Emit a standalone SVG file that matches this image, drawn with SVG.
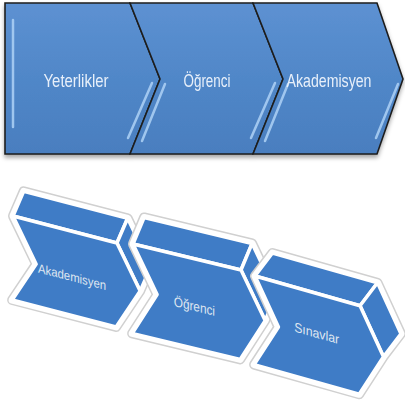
<svg xmlns="http://www.w3.org/2000/svg" width="405" height="405" viewBox="0 0 405 405">
<defs>
  <linearGradient id="gTop" x1="0" y1="0" x2="0" y2="1">
    <stop offset="0" stop-color="#5d91d2"/>
    <stop offset="0.5" stop-color="#5087c8"/>
    <stop offset="1" stop-color="#4a7ebf"/>
  </linearGradient>
  <filter id="shadow" x="-5%" y="-5%" width="110%" height="115%">
    <feDropShadow dx="0" dy="3" stdDeviation="2" flood-color="#000" flood-opacity="0.35"/>
  </filter>
  <style>
    .chev{fill:url(#gTop);stroke:#1e1e1e;stroke-width:1.6;stroke-linejoin:miter}
    .hl{stroke:#a9cdf3;stroke-width:2.5;fill:none;stroke-linecap:round;opacity:0.9}
    .t1{font-family:"Liberation Sans",Arial,sans-serif;font-size:19px;fill:#e8f0fa;text-anchor:middle}
    .halo{fill:#ffffff;stroke:#d0d0d0;stroke-width:10;stroke-linejoin:round;vector-effect:non-scaling-stroke}
    .halo2{fill:#ffffff;stroke:#ffffff;stroke-width:7;stroke-linejoin:round;vector-effect:non-scaling-stroke}
    .face{fill:#3f7cc6;stroke:#ffffff;stroke-width:3.5;stroke-linejoin:round;vector-effect:non-scaling-stroke}
    .t2{font-family:"Liberation Sans",Arial,sans-serif;font-size:13px;fill:#dfe7f1;text-anchor:middle}
  </style>
  <g id="prismA">
    <polygon class="halo" points="0,0 11,-28 121,-28 146,15 135,43 110,86 0,86 25,43"/>
    <polygon class="halo2" points="0,0 11,-28 121,-28 146,15 135,43 110,86 0,86 25,43"/>
    <polygon class="face" points="0,0 110,0 121,-28 11,-28"/>
    <polygon class="face" points="110,0 135,43 146,15 121,-28"/>
    <polygon class="face" points="0,0 110,0 135,43 110,86 0,86 25,43"/>
  </g>
  <g id="prismB">
    <polygon class="halo" points="0,0 18,-27 128,-27 153,16 135,43 110,86 0,86 25,43"/>
    <polygon class="halo2" points="0,0 18,-27 128,-27 153,16 135,43 110,86 0,86 25,43"/>
    <polygon class="face" points="0,0 110,0 128,-27 18,-27"/>
    <polygon class="face" points="110,0 135,43 153,16 128,-27"/>
    <polygon class="face" points="0,0 110,0 135,43 110,86 0,86 25,43"/>
  </g>
</defs>

<!-- Top process flow -->
<g filter="url(#shadow)">
  <g id="node-yeterlikler">
    <polygon class="chev" points="5,3 130,3 160,79 130,154 5,154"/>
    <line class="hl" x1="13" y1="20" x2="13" y2="127"/>
    <line class="hl" x1="152" y1="83" x2="128" y2="138"/>
    <text class="t1" x="76" y="87" textLength="65" lengthAdjust="spacingAndGlyphs">Yeterlikler</text>
  </g>
  <g id="node-ogrenci-top">
    <polygon class="chev" points="130,3 253,3 283,79 253,154 130,154 160,79"/>
    <line class="hl" x1="165" y1="84" x2="142" y2="141"/>
    <line class="hl" x1="275" y1="83" x2="251" y2="138"/>
    <text class="t1" x="207" y="87" textLength="47" lengthAdjust="spacingAndGlyphs">Öğrenci</text>
  </g>
  <g id="node-akademisyen-top">
    <polygon class="chev" points="253,3 377,3 403,79 377,154 253,154 283,79"/>
    <line class="hl" x1="288" y1="84" x2="265" y2="141"/>
    <line class="hl" x1="398" y1="84" x2="376" y2="138"/>
    <text class="t1" x="329" y="87" textLength="85" lengthAdjust="spacingAndGlyphs">Akademisyen</text>
  </g>
</g>

<!-- Bottom 3D chevrons -->
<g id="node-akademisyen-3d" transform="matrix(0.945,0.245,-0.01,0.977,13,216)">
  <use href="#prismA"/>
  <text class="t2" x="63" y="51" textLength="72" lengthAdjust="spacingAndGlyphs">Akademisyen</text>
</g>
<g id="node-ogrenci-3d" transform="matrix(0.982,0.236,-0.01,1.04,133,244)">
  <use href="#prismA"/>
  <text class="t2" x="63" y="50" textLength="42" lengthAdjust="spacingAndGlyphs">Öğrenci</text>
</g>
<g id="node-sinavlar-3d" transform="matrix(0.955,0.27,-0.01,1.03,255,276)">
  <use href="#prismB"/>
  <text class="t2" x="65" y="43" textLength="47" lengthAdjust="spacingAndGlyphs">Sınavlar</text>
</g>
<g id="connectors"/>
</svg>
